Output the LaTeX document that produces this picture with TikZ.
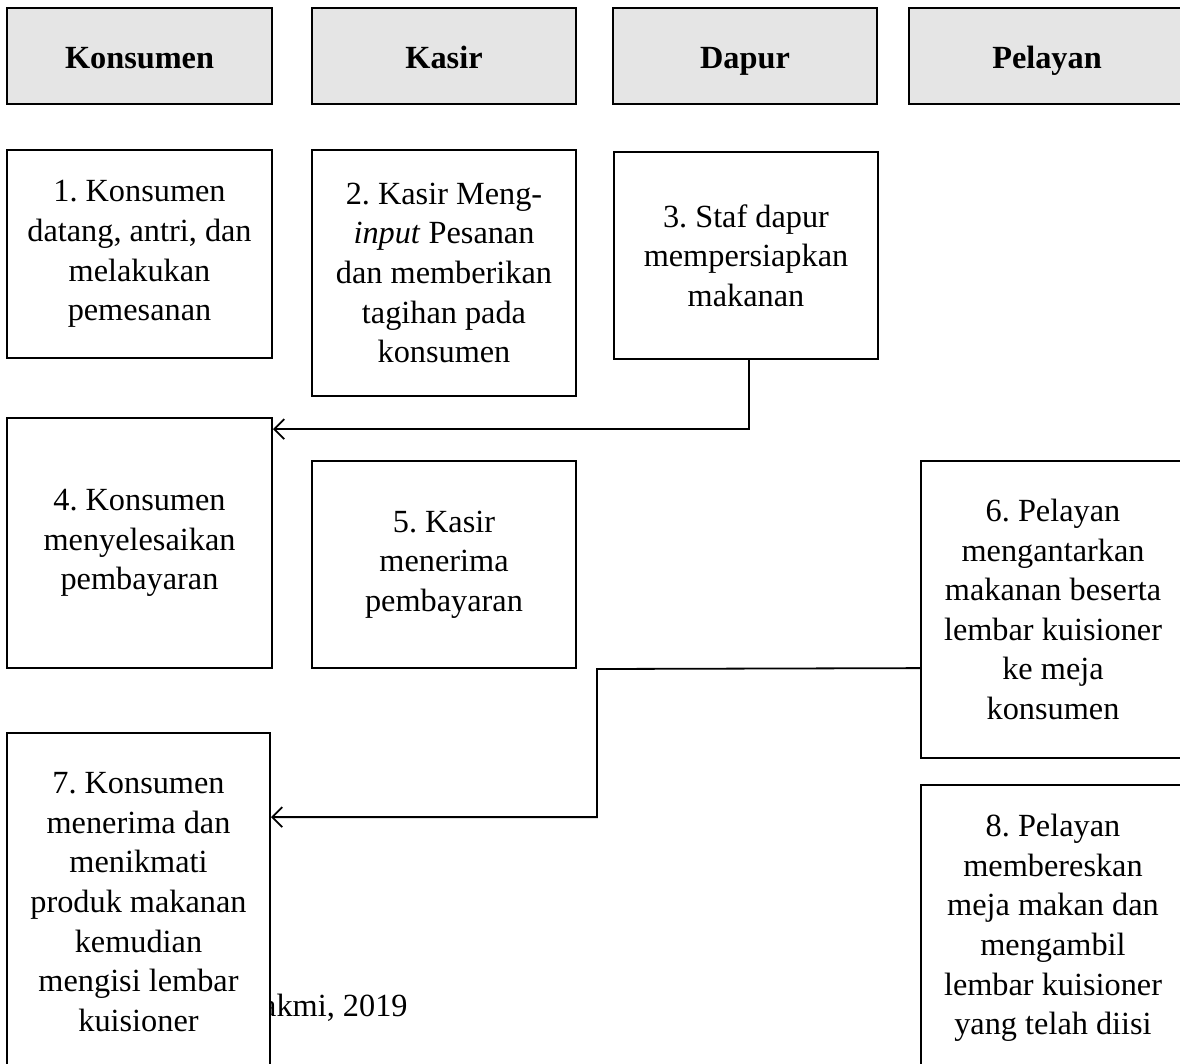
\documentclass[tikz,border=0pt]{standalone}
\usepackage{fontspec}
\setmainfont{Liberation Serif}
\usetikzlibrary{arrows.meta}
\frenchspacing

\newcommand\alurtextstyle{\fontsize{32.3}{39.6}\selectfont}
\newcommand\alurlinewidth{1.8pt}
\newcommand\alurboxwidth{265pt}
\tikzset{
  lanehead/.style={draw, line width=\alurlinewidth, fill=black!10, minimum width=\alurboxwidth,
    minimum height=96pt, text height=24pt, text depth=0pt, font=\alurtextstyle\bfseries},
  stepbox/.style={draw, line width=\alurlinewidth, fill=white, minimum width=\alurboxwidth,
    align=center, font=\alurtextstyle, inner sep=0pt},
  flow/.style={line width=\alurlinewidth, -{Straight Barb[length=10pt,width=20pt]}},
}

\begin{document}
\begin{tikzpicture}[x=1pt, y=-1pt]
  \clip (0,0) rectangle (1180,1063);
  % kolom
  \node[lanehead] (konsumen) at (139.5,56) {Konsumen};
  \node[lanehead, minimum width=264pt] (kasir) at (444,56) {Kasir};
  \node[lanehead, minimum width=264pt] (dapur) at (745,56) {Dapur};
  \node[lanehead, minimum width=276pt] (pelayan) at (1047,56) {Pelayan};

  % langkah
  \node[stepbox, minimum height=208pt] (step1) at (139.5,254)
    {1. Konsumen\\datang, antri, dan\\melakukan\\pemesanan};
  \node[stepbox, minimum width=264pt, minimum height=246pt] (step2) at (444,273)
    {2. Kasir Meng-\\\textit{input} Pesanan\\dan memberikan\\tagihan pada\\konsumen};
  \node[stepbox, minimum width=264pt, minimum height=207pt] (step3) at (746,255.5)
    {3. Staf dapur\\mempersiapkan\\makanan};
  \node[stepbox, minimum height=250pt] (step4) at (139.5,543)
    {4. Konsumen\\menyelesaikan\\pembayaran};
  \node[stepbox, minimum width=264pt, minimum height=207pt] (step5) at (444,564.5)
    {5. Kasir\\menerima\\pembayaran};
  \node[stepbox, minimum width=264pt, minimum height=297pt] (step6) at (1053,609.5)
    {6. Pelayan\\mengantarkan\\makanan beserta\\lembar kuisioner\\ke meja\\konsumen};
  \node[font=\alurtextstyle, anchor=west, inner sep=0pt] (sumber) at (262,1008) {akmi, 2019};
  \node[stepbox, minimum width=263pt, minimum height=338pt] (step7) at (138.5,902)
    {7. Konsumen\\menerima dan\\menikmati\\produk makanan\\kemudian\\mengisi lembar\\kuisioner};
  \node[stepbox, minimum width=264pt, minimum height=286pt] (step8) at (1053,928)
    {8. Pelayan\\membereskan\\meja makan dan\\mengambil\\lembar kuisioner\\yang telah diisi};

  % alur
  \coordinate (belok) at (597,669);
  \draw[flow] ([xshift=3pt]step3.south) |- ([yshift=-12pt]step4.north east);
  \draw[flow] ([yshift=-208pt]step6.north west) -- (belok) |- ([yshift=-85pt]step7.north east);
\end{tikzpicture}
\end{document}
